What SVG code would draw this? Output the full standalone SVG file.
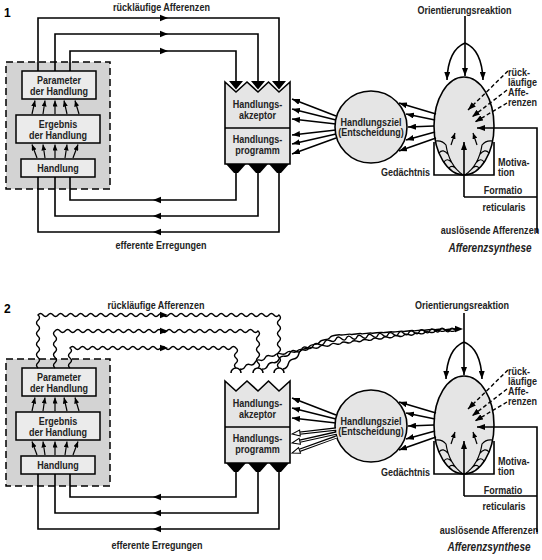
<svg xmlns="http://www.w3.org/2000/svg" width="542" height="560" viewBox="0 0 542 560">
<style>
.t{font-family:"Liberation Sans",Arial,sans-serif;font-size:11px;font-weight:bold;fill:#222;text-anchor:middle}
.l{text-anchor:start}
.e{text-anchor:end}
.it{font-style:italic;font-size:12.5px}
.num{font-family:"Liberation Sans",sans-serif;font-size:12px;font-weight:bold;fill:#000}
.c{fill:none;stroke:#000;stroke-width:1.6}
.f{fill:none;stroke:#000;stroke-width:1.2}
.wv{fill:none;stroke:#000;stroke-width:1.4}
.box{fill:#ebebeb;stroke:#000;stroke-width:1.5}
.grey{fill:#d3d3d3;stroke:#000;stroke-width:1.5;stroke-dasharray:7 4}
.node{fill:#e5e5e5;stroke:#000;stroke-width:1.6}
.dash{fill:none;stroke:#000;stroke-width:1.4;stroke-dasharray:4 2.5}
.dbl{fill:none;stroke:#000;stroke-width:3.4}
.wht{fill:none;stroke:#fff;stroke-width:1.2}
</style>
<defs>
<marker id="m" viewBox="0 0 8 6" refX="8" refY="3" markerWidth="8" markerHeight="6" markerUnits="userSpaceOnUse" orient="auto"><path d="M0 0L8 3L0 6Z"/></marker>
<marker id="s" viewBox="0 0 6 5" refX="6" refY="2.5" markerWidth="6" markerHeight="5" markerUnits="userSpaceOnUse" orient="auto"><path d="M0 0L6 2.5L0 5Z"/></marker>
<marker id="h" viewBox="-1 -1 10 8" refX="8" refY="3" markerWidth="10" markerHeight="8" markerUnits="userSpaceOnUse" orient="auto"><path d="M0 0L8 3L0 6Z" fill="#fff" stroke="#000" stroke-width="1"/></marker>
<path id="ah" d="M0 0L-8 -3.3L-8 3.3Z"/>
</defs>

<!-- ================= Diagram 1 ================= -->
<text class="num" x="4" y="17">1</text>

<g id="d1-handlungsfeld">
<rect class="grey" x="6" y="62" width="104" height="127"/>
</g>
<g id="d1-parameter">
<rect class="box" x="22" y="71" width="74" height="28"/>
<text class="t" transform="translate(59 84) scale(.82 1)">Parameter</text>
<text class="t" transform="translate(59 95) scale(.82 1)">der Handlung</text>
</g>
<g id="d1-ergebnis">
<rect class="box" x="16" y="115" width="84" height="28"/>
<text class="t" transform="translate(58 128) scale(.82 1)">Ergebnis</text>
<text class="t" transform="translate(58 139) scale(.82 1)">der Handlung</text>
</g>
<g id="d1-handlung">
<rect class="box" x="21" y="159" width="74" height="18"/>
<text class="t" transform="translate(58 172) scale(.82 1)">Handlung</text>
</g>

<g id="d1-akzeptor">
<path class="node" d="M225 82L236 92L247 82L258 92L268.5 82L279 92L290 82V164H225Z"/>
<path class="c" d="M225 128H290"/>
<path d="M229 81H243L236 89.5Z M251 81H265L258 89.5Z M272 81H286L279 89.5Z"/>
<path d="M226 164H246L238 173H234Z M248 164H268L260 173H256Z M269 164H289L281 173H277Z"/>
<text class="t" transform="translate(257.5 108) scale(.82 1)">Handlungs-</text>
<text class="t" transform="translate(257.5 119) scale(.82 1)">akzeptor</text>
<text class="t" transform="translate(257.5 143) scale(.82 1)">Handlungs-</text>
<text class="t" transform="translate(257.5 154) scale(.82 1)">programm</text>
</g>

<g id="d1-ziel">
<circle class="node" cx="371" cy="127" r="36"/>
<text class="t" transform="translate(371 125.5) scale(.82 1)">Handlungsziel</text>
<text class="t" transform="translate(371 135.5) scale(.82 1)">(Entscheidung)</text>
</g>

<g id="d1-synthese">
<ellipse class="node" cx="464" cy="126" rx="30" ry="49"/>
<path class="c" d="M434 142V175H494V142"/>
<path class="f" d="M435.5 141Q442 140 446 145Q449 165 463 175M439 153Q443 148 448.2 154.4M443.6 162.5Q447 157 451.8 162.5M449 168Q452 164 456.7 169.4"/>
<path class="f" d="M492.5 141Q486 140 482 145Q479 165 465 175M489 153Q485 148 479.8 154.4M484.4 162.5Q481 157 476.2 162.5M479 168Q476 164 471.3 169.4"/>
<path class="f" marker-end="url(#s)" d="M451 145L455 133"/>
<path class="f" marker-end="url(#s)" d="M477 145L473 133"/>
</g>

<g id="d1-labels">
<text class="t" transform="translate(161.5 11) scale(.82 1)">rückläufige Afferenzen</text>
<text class="t" transform="translate(161 249) scale(.82 1)">efferente Erregungen</text>
<text class="t" transform="translate(464.5 14) scale(.82 1)">Orientierungsreaktion</text>
<text class="t l" transform="translate(508 76) scale(.82 1)">rück-</text>
<text class="t l" transform="translate(508 86) scale(.82 1)">läufige</text>
<text class="t l" transform="translate(508 96) scale(.82 1)">Affe-</text>
<text class="t l" transform="translate(508 106) scale(.82 1)">renzen</text>
<text class="t l" transform="translate(498 166) scale(.82 1)">Motiva-</text>
<text class="t l" transform="translate(498 176) scale(.82 1)">tion</text>
<text class="t e" transform="translate(430 176) scale(.82 1)">Gedächtnis</text>
<text class="t" transform="translate(503 194) scale(.82 1)">Formatio</text>
<text class="t" transform="translate(504 211) scale(.82 1)">reticularis</text>
<text class="t" transform="translate(490 234) scale(.82 1)">auslösende Afferenzen</text>
<text class="t it" transform="translate(490 252) scale(.8 1)">Afferenzsynthese</text>
</g>

<g id="d1-connectors">
<path class="c" d="M38 71V18H279V81M55 71V34H258V81M70 71V51H236V81"/>
<use href="#ah" transform="translate(168,18)"/>
<use href="#ah" transform="translate(168,34)"/>
<use href="#ah" transform="translate(168,51)"/>
<path class="c" d="M236 173V200H70V177M258 173V216H55V177M279 173V232H38V177"/>
<use href="#ah" transform="translate(153,200) rotate(180)"/>
<use href="#ah" transform="translate(153,216) rotate(180)"/>
<use href="#ah" transform="translate(153,232) rotate(180)"/>
<g class="f" marker-end="url(#s)">
<path d="M32 114L35 100.5"/><path d="M43 114L45 100.5"/><path d="M55 114V100.5"/><path d="M67 114L64 100.5"/><path d="M79 114L75 100.5"/>
<path d="M37 158L32 144.5"/><path d="M45 158L43 144.5"/><path d="M55 158V144.5"/><path d="M65 158L67 144.5"/><path d="M73 158L78 144.5"/>
</g>
<g class="c" marker-end="url(#m)">
<path d="M336 116L292 99"/><path d="M336 120L292 109"/><path d="M336 124L292 119"/>
<path d="M336 130L292 135"/><path d="M336 134L292 144"/><path d="M336 138L292 154"/>
<path d="M436 114L399 103"/><path d="M435 120L406 114"/><path d="M434 126L408 127"/><path d="M435 132L406 140"/><path d="M436 138L399 151"/>
<path d="M465 43V76"/><path d="M465 43Q448 50 447 80"/><path d="M465 43Q482 50 483 80"/>
<path d="M537 233V128H477"/><path d="M464 197V142"/>
</g>
<path class="c" d="M465 16V43M464 197H537"/>
<g class="dash" marker-end="url(#m)">
<path d="M508 71L468 110"/><path d="M507 90L472 117"/><path d="M507 103L475 122"/>
</g>
</g>

<!-- ================= Diagram 2 ================= -->
<text class="num" x="4" y="313">2</text>

<g id="d2-handlungsfeld">
<rect class="grey" x="6" y="359" width="104" height="127"/>
</g>
<g id="d2-parameter">
<rect class="box" x="22" y="368" width="74" height="28"/>
<text class="t" transform="translate(59 381) scale(.82 1)">Parameter</text>
<text class="t" transform="translate(59 392) scale(.82 1)">der Handlung</text>
</g>
<g id="d2-ergebnis">
<rect class="box" x="16" y="412" width="84" height="28"/>
<text class="t" transform="translate(58 425) scale(.82 1)">Ergebnis</text>
<text class="t" transform="translate(58 436) scale(.82 1)">der Handlung</text>
</g>
<g id="d2-handlung">
<rect class="box" x="21" y="456" width="74" height="18"/>
<text class="t" transform="translate(58 469) scale(.82 1)">Handlung</text>
</g>

<g id="d2-akzeptor">
<path class="node" d="M225 381L236 391L247 381L258 391L268.5 381L279 391L290 381V463H225Z"/>
<path class="c" d="M225 427H290"/>
<path d="M226 463H246L238 472H234Z M248 463H268L260 472H256Z M269 463H289L281 472H277Z"/>
<text class="t" transform="translate(257.5 407) scale(.82 1)">Handlungs-</text>
<text class="t" transform="translate(257.5 418) scale(.82 1)">akzeptor</text>
<text class="t" transform="translate(257.5 442) scale(.82 1)">Handlungs-</text>
<text class="t" transform="translate(257.5 453) scale(.82 1)">programm</text>
</g>

<g id="d2-ziel">
<circle class="node" cx="371" cy="426" r="36"/>
<text class="t" transform="translate(371 424.5) scale(.82 1)">Handlungsziel</text>
<text class="t" transform="translate(371 434.5) scale(.82 1)">(Entscheidung)</text>
</g>

<g id="d2-synthese">
<ellipse class="node" cx="464" cy="425" rx="30" ry="49"/>
<path class="c" d="M434 441V474H494V441"/>
<path class="f" d="M435.5 440Q442 439 446 444Q449 464 463 474M439 452Q443 447 448.2 453.4M443.6 461.5Q447 456 451.8 461.5M449 467Q452 463 456.7 468.4"/>
<path class="f" d="M492.5 440Q486 439 482 444Q479 464 465 474M489 452Q485 447 479.8 453.4M484.4 461.5Q481 456 476.2 461.5M479 467Q476 463 471.3 468.4"/>
<path class="f" marker-end="url(#s)" d="M451 444L455 432"/>
<path class="f" marker-end="url(#s)" d="M477 444L473 432"/>
</g>

<g id="d2-labels">
<text class="t" transform="translate(156 309) scale(.82 1)">rückläufige Afferenzen</text>
<text class="t" transform="translate(157 549) scale(.82 1)">efferente Erregungen</text>
<text class="t" transform="translate(462 309) scale(.82 1)">Orientierungsreaktion</text>
<text class="t l" transform="translate(508 375) scale(.82 1)">rück-</text>
<text class="t l" transform="translate(508 385) scale(.82 1)">läufige</text>
<text class="t l" transform="translate(508 395) scale(.82 1)">Affe-</text>
<text class="t l" transform="translate(508 405) scale(.82 1)">renzen</text>
<text class="t l" transform="translate(498 465) scale(.82 1)">Motiva-</text>
<text class="t l" transform="translate(498 475) scale(.82 1)">tion</text>
<text class="t e" transform="translate(430 476) scale(.82 1)">Gedächtnis</text>
<text class="t" transform="translate(503 494) scale(.82 1)">Formatio</text>
<text class="t" transform="translate(504 510) scale(.82 1)">reticularis</text>
<text class="t" transform="translate(489 534) scale(.82 1)">auslösende Afferenzen</text>
<text class="t it" transform="translate(489 551) scale(.8 1)">Afferenzsynthese</text>
</g>

<g id="d2-connectors">
<path class="wv" d="M38 368q-3 -2.65 0 -5.3t0 -5.3t0 -5.3t0 -5.3t0 -5.3t0 -5.3t0 -5.3t0 -5.3t0 -5.3t0 -5.3q2.51 -3 5.02 0t5.02 0t5.02 0t5.02 0t5.02 0t5.02 0t5.02 0t5.02 0t5.02 0t5.02 0t5.02 0t5.02 0t5.02 0t5.02 0t5.02 0t5.02 0t5.02 0t5.02 0t5.02 0t5.02 0t5.02 0t5.02 0t5.02 0t5.02 0t5.02 0t5.02 0t5.02 0t5.02 0t5.02 0t5.02 0t5.02 0t5.02 0t5.02 0t5.02 0t5.02 0t5.02 0t5.02 0t5.02 0t5.02 0t5.02 0t5.02 0t5.02 0t5.02 0t5.02 0t5.02 0t5.02 0t5.02 0t5.02 0q3 2.65 0 5.3t0 5.3t0 5.3t0 5.3t0 5.3t0 5.3t0 5.3t0 5.3t0 5.3t0 5.3"/>
<path class="wv" d="M55 368q-3 -2.645 0 -5.29t0 -5.29t0 -5.29t0 -5.29t0 -5.29t0 -5.29t0 -5.29q2.5375 -3 5.075 0t5.075 0t5.075 0t5.075 0t5.075 0t5.075 0t5.075 0t5.075 0t5.075 0t5.075 0t5.075 0t5.075 0t5.075 0t5.075 0t5.075 0t5.075 0t5.075 0t5.075 0t5.075 0t5.075 0t5.075 0t5.075 0t5.075 0t5.075 0t5.075 0t5.075 0t5.075 0t5.075 0t5.075 0t5.075 0t5.075 0t5.075 0t5.075 0t5.075 0t5.075 0t5.075 0t5.075 0t5.075 0t5.075 0t5.075 0q3 2.645 0 5.29t0 5.29t0 5.29t0 5.29t0 5.29t0 5.29t0 5.29"/>
<path class="wv" d="M70 368q-3 -2.5 0 -5t0 -5t0 -5t0 -5q2.515 -3 5.03 0t5.03 0t5.03 0t5.03 0t5.03 0t5.03 0t5.03 0t5.03 0t5.03 0t5.03 0t5.03 0t5.03 0t5.03 0t5.03 0t5.03 0t5.03 0t5.03 0t5.03 0t5.03 0t5.03 0t5.03 0t5.03 0t5.03 0t5.03 0t5.03 0t5.03 0t5.03 0t5.03 0t5.03 0t5.03 0t5.03 0t5.03 0t5.03 0q3 2.5 0 5t0 5t0 5t0 5"/>
<use href="#ah" transform="translate(168,315)"/>
<use href="#ah" transform="translate(168,331)"/>
<use href="#ah" transform="translate(168,348)"/>
<path class="c" d="M231 373A5 5 0 0 1 241 373M253 373A5 5 0 0 1 263 373M274 373A5 5 0 0 1 284 373"/>
<path class="wv" d="M240 369q3.5 1.2 5 -2.2t5 -2.2t5 -2.2t5 -2.2t5 -2.2t5 -2.2t5.5 -1t5.5 -1t5.5 -1t5.5 -1t5.5 -1t5.5 -1t5.5 -1t5.5 -1t5.5 -1t5.5 -1t5.5 -1t5.5 -1t5.2 -0.65t5.2 -0.65t5.2 -0.65t5.2 -0.65t5.2 -0.65t5.2 -0.65t5.2 -0.65t5.2 -0.65t5.2 -0.65t5.2 -0.65t5.2 -0.65t5.2 -0.65t5.2 -0.65t5.2 -0.65t5.2 -0.65t5.2 -0.65t5.2 -0.65t5.2 -0.65t5.2 -0.65t5.2 -0.65t5 0t5 0t5 0"/>
<path class="wv" d="M262 369q4 0.6 5.6 -3.2t5.6 -3.2t5.6 -3.2t5.6 -3.2t5.6 -3.2t5.75 -1.75t5.75 -1.75t5.75 -1.75t5.75 -1.75t5.75 -1.75t5.75 -1.75t5.75 -1.75t5.75 -1.75t5.2 -0.45t5.2 -0.45t5.2 -0.45t5.2 -0.45t5.2 -0.45t5.2 -0.45t5.2 -0.45t5.2 -0.45t5.2 -0.45t5.2 -0.45t5.2 -0.45t5.2 -0.45t5.2 -0.45t5.2 -0.45t5.2 -0.45t5.2 -0.45t5.2 -0.45t5.2 -0.45t5.2 -0.45t5.2 -0.45t5 0t5 0t5 0"/>
<path class="wv" d="M283 369q4.3 -0.7 5.25 -5t5.25 -5t5.25 -5t5.25 -5t5.2 -2.3t5.2 -2.3t5.2 -2.3t5.2 -2.3t5.2 -2.3t5.2 -2.3t5.2 -0.3t5.2 -0.3t5.2 -0.3t5.2 -0.3t5.2 -0.3t5.2 -0.3t5.2 -0.3t5.2 -0.3t5.2 -0.3t5.2 -0.3t5.2 -0.3t5.2 -0.3t5.2 -0.3t5.2 -0.3t5.2 -0.3t5.2 -0.3t5.2 -0.3t5.2 -0.3t5.2 -0.3t5.2 -0.3t5 0t5 0t5 0"/>
<path class="c" d="M454 329H458"/>
<use href="#ah" transform="translate(463,329)"/>
<path class="c" d="M236 472V497H70V474M258 472V513H55V474M279 472V529H38V474"/>
<use href="#ah" transform="translate(153,497) rotate(180)"/>
<use href="#ah" transform="translate(153,513) rotate(180)"/>
<use href="#ah" transform="translate(153,529) rotate(180)"/>
<g class="f" marker-end="url(#s)">
<path d="M32 411L35 397.5"/><path d="M43 411L45 397.5"/><path d="M55 411V397.5"/><path d="M67 411L64 397.5"/><path d="M79 411L75 397.5"/>
<path d="M37 455L32 441.5"/><path d="M45 455L43 441.5"/><path d="M55 455V441.5"/><path d="M65 455L67 441.5"/><path d="M73 455L78 441.5"/>
</g>
<g class="c" marker-end="url(#m)">
<path d="M336 415L292 398"/><path d="M336 419L292 408"/><path d="M336 423L292 418"/>
<path d="M436 413L399 402"/><path d="M435 419L406 413"/><path d="M434 425L408 426"/><path d="M435 431L406 439"/><path d="M436 437L399 450"/>
<path d="M464 342V375"/><path d="M464 342Q447 349 446 379"/><path d="M464 342Q481 349 482 379"/>
<path d="M537 532V427H477"/><path d="M464 496V441"/>
</g>
<path class="dbl" d="M336 429L299.9 433.1M336 433L299.8 441.2M336 437L299.5 450.3"/>
<g class="wht" marker-end="url(#h)">
<path d="M337 429L292 434"/><path d="M337 433L292 443"/><path d="M337 437L292 453"/>
</g>
<path class="c" d="M464 313V342M464 496H537"/>
<g class="dash" marker-end="url(#m)">
<path d="M508 370L468 409"/><path d="M507 389L472 416"/><path d="M507 402L475 421"/>
</g>
</g>
</svg>
